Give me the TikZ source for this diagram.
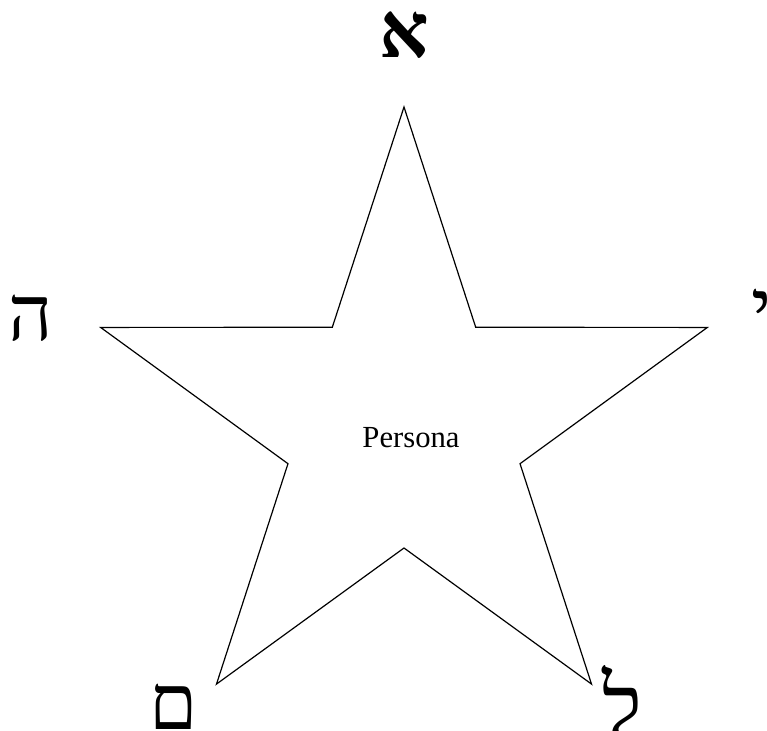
\documentclass[tikz,border=0pt]{standalone}
\usepackage{fontspec}
\setmainfont{Liberation Serif}
\newfontfamily\hebfont[Script=Hebrew]{Liberation Serif}
\TeXXeTstate=1
\usetikzlibrary{calc}

\begin{document}
\begin{tikzpicture}[x=0.75pt, y=0.75pt,
  letter/.style={inner sep=0pt, font=\hebfont\fontsize{58}{60}\selectfont},
  lab/.style={inner sep=0pt, font=\fontsize{23}{26}\selectfont},
  starline/.style={draw, line width=0.9pt, line join=miter}]
\useasboundingbox (0,0) rectangle (767,731);
\coordinate (c) at (404,305);
% outer and inner points of the pentagram
\foreach \i in {0,...,4} {
  \coordinate (o\i) at ($(c)+(90+72*\i:319)$);
  \coordinate (n\i) at ($(c)+(126+72*\i:122)$);
}
\draw[starline] (o0) -- (n0) -- (o1) -- (n1) -- (o2) -- (n2) -- (o3) -- (n3) -- (o4) -- (n4) -- cycle;
\node[lab] (persona) at (411,293) {Persona};
% letters round the star
\node[letter, font=\hebfont\bfseries\fontsize{58}{60}\selectfont] (alef) at (404,696) {\beginR א\endR};
\node[letter] (he) at (31,413) {\beginR ה\endR};
\node[letter] (yod) at (762,419) {\beginR י\endR};
\node[letter] (mem) at (174,24) {\beginR ם\endR};
\node[letter, font=\hebfont\fontsize{64}{66}\selectfont] (lamed) at (622,30) {\beginR ל\endR};
\end{tikzpicture}
\end{document}
